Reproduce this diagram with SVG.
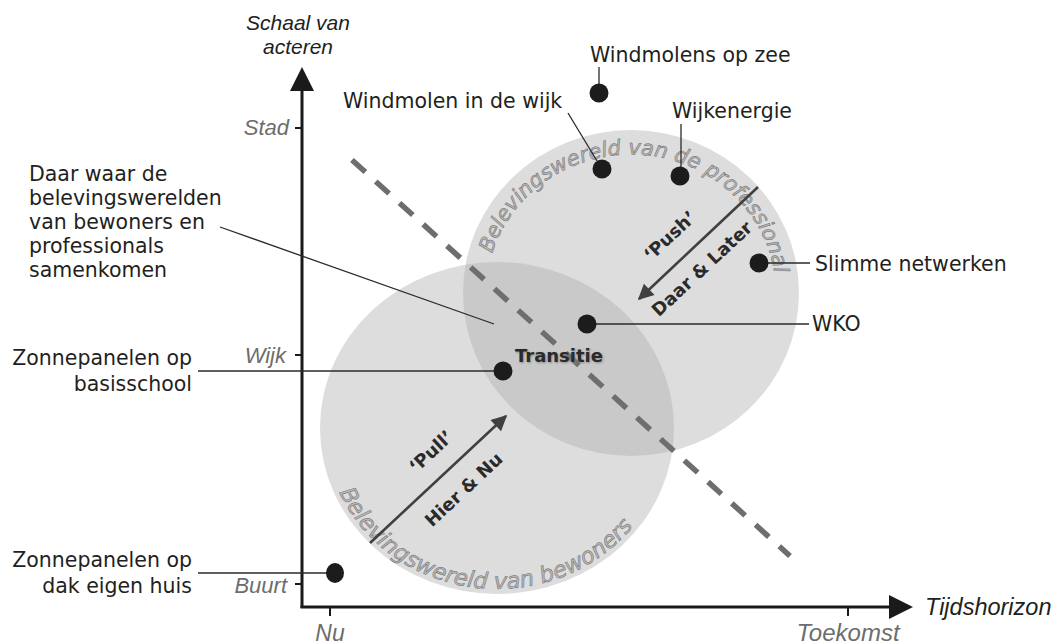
<svg xmlns="http://www.w3.org/2000/svg" width="1058" height="644" viewBox="0 0 1058 644">
<style>
.lbl{font-family:"DejaVu Sans",Verdana,sans-serif;font-size:20.5px;fill:#231f20}
.ax{font-family:"Liberation Sans",Arial,sans-serif;font-style:italic;font-size:21px;fill:#231f20}
.tick{font-family:"Liberation Sans",Arial,sans-serif;font-style:italic;font-size:22px;fill:#6d6d6d}
.bold{font-family:"DejaVu Sans",Verdana,sans-serif;font-weight:bold;font-size:18px;fill:#2a2a2a}
.arc{font-family:"DejaVu Sans",Verdana,sans-serif;font-style:italic;fill:#b8b8b8;stroke:#6a6a6a;stroke-width:0.5}
.lead{stroke:#2a2a2a;stroke-width:1.3;fill:none}
.dot{fill:#1c1c1c}
.axis{stroke:#1a1a1a;stroke-width:3;fill:none}
.tk{stroke:#1a1a1a;stroke-width:2}
.arr{stroke:#404040;stroke-width:2.6;fill:none}
</style>
<defs>
<marker id="ah" viewBox="0 0 10 10" refX="9" refY="5" markerWidth="6.5" markerHeight="6" orient="auto" markerUnits="strokeWidth">
<path d="M0,0 L10,5 L0,10 z" fill="#404040"/>
</marker>
<clipPath id="profClip"><ellipse cx="631" cy="293" rx="168" ry="163"/></clipPath>
<path id="profArc" d="M486.6,280.9 A145,139 0 0 1 776,293"/>
<path id="bewArc" d="M327.6,456 A172,161 0 0 0 663.1,469.7"/>
<filter id="halo" x="-10%" y="-30%" width="120%" height="160%"><feGaussianBlur stdDeviation="1.2"/></filter>
</defs>
<rect width="1058" height="644" fill="#ffffff"/>

<g id="circles">
<ellipse id="prof-circle" cx="631" cy="293" rx="168" ry="163" fill="#dddddd"/>
<ellipse id="bew-circle" cx="497" cy="428" rx="177" ry="166" fill="#dddddd"/>
<ellipse cx="497" cy="428" rx="177" ry="166" fill="#c9c9c9" clip-path="url(#profClip)"/>
<text class="arc" font-size="21"><textPath href="#profArc" startOffset="28">Belevingswereld van de professional</textPath></text>
<text class="arc" font-size="22.5"><textPath href="#bewArc" startOffset="38">Belevingswereld van bewoners</textPath></text>
</g>

<g id="divider">
<line x1="352" y1="160" x2="790" y2="556" stroke="#6e6e6e" stroke-width="5.5" stroke-dasharray="18 14"/>
</g>

<g id="axes">
<line class="axis" x1="302" y1="90" x2="302" y2="608"/>
<polygon points="302,67 290,91 314,91" fill="#1a1a1a"/>
<line class="axis" x1="300.5" y1="607" x2="890" y2="607"/>
<polygon points="913,607 889,595 889,619" fill="#1a1a1a"/>
<line class="tk" x1="295" y1="128" x2="302" y2="128"/>
<line class="tk" x1="295" y1="355" x2="302" y2="355"/>
<line class="tk" x1="295" y1="584" x2="302" y2="584"/>
<line class="tk" x1="330" y1="607" x2="330" y2="616"/>
<line class="tk" x1="848" y1="607" x2="848" y2="616"/>
<text class="ax" x="298" y="30" text-anchor="middle">Schaal van</text>
<text class="ax" x="298" y="54" text-anchor="middle">acteren</text>
<text class="ax" x="925" y="615" style="font-size:23.5px">Tijdshorizon</text>
<text class="tick" x="289" y="135" text-anchor="end">Stad</text>
<text class="tick" x="286" y="363" text-anchor="end">Wijk</text>
<text class="tick" x="287" y="593" text-anchor="end">Buurt</text>
<text class="tick" x="330" y="641" text-anchor="middle" style="font-size:23px">Nu</text>
<text class="tick" x="848" y="641" text-anchor="middle" style="font-size:24px">Toekomst</text>
</g>

<g id="connectors">
<line class="lead" x1="599" y1="67" x2="599" y2="86"/>
<line class="lead" x1="568" y1="113" x2="597" y2="161"/>
<line class="lead" x1="681" y1="124" x2="681" y2="170"/>
<line class="lead" x1="759" y1="263" x2="810" y2="263"/>
<line class="lead" x1="587" y1="324" x2="809" y2="324"/>
<line class="lead" x1="198" y1="371" x2="503" y2="371"/>
<line class="lead" x1="198" y1="573" x2="335" y2="573"/>
<line class="lead" x1="220" y1="227" x2="494" y2="324"/>
<line class="arr" x1="370" y1="543" x2="506" y2="416" marker-end="url(#ah)"/>
<line class="arr" x1="758" y1="187" x2="639" y2="299" marker-end="url(#ah)"/>
</g>

<g id="node-windmolens-zee">
<circle class="dot" cx="599" cy="93" r="9.5"/>
<text class="lbl" x="590" y="62">Windmolens op zee</text>
</g>
<g id="node-windmolen-wijk">
<circle class="dot" cx="602" cy="169" r="9.5"/>
<text class="lbl" x="343" y="108">Windmolen in de wijk</text>
</g>
<g id="node-wijkenergie">
<circle class="dot" cx="680" cy="176" r="9.5"/>
<text class="lbl" x="672" y="118">Wijkenergie</text>
</g>
<g id="node-slimme">
<circle class="dot" cx="759" cy="263" r="9.5"/>
<text class="lbl" x="815" y="271">Slimme netwerken</text>
</g>
<g id="node-wko">
<circle class="dot" cx="587" cy="324" r="9.5"/>
<text class="lbl" x="812" y="331">WKO</text>
</g>
<g id="node-zon-school">
<circle class="dot" cx="503" cy="371" r="9.5"/>
<text class="lbl" x="192" y="365" text-anchor="end">Zonnepanelen op</text>
<text class="lbl" x="192" y="391" text-anchor="end">basisschool</text>
</g>
<g id="node-zon-dak">
<ellipse class="dot" cx="335" cy="573" rx="9" ry="10"/>
<text class="lbl" x="192" y="567" text-anchor="end">Zonnepanelen op</text>
<text class="lbl" x="192" y="593" text-anchor="end">dak eigen huis</text>
</g>
<g id="node-overlap-note">
<text class="lbl" x="29" y="181">Daar waar de</text>
<text class="lbl" x="29" y="205">belevingswerelden</text>
<text class="lbl" x="29" y="229">van bewoners en</text>
<text class="lbl" x="29" y="253">professionals</text>
<text class="lbl" x="29" y="277">samenkomen</text>
</g>
<g id="node-transitie">
<text class="bold" x="560" y="363" text-anchor="middle" style="fill:#8a8a8a" filter="url(#halo)">Transitie</text>
<text class="bold" x="559" y="362" text-anchor="middle">Transitie</text>
</g>
<g id="node-pull" transform="translate(370,543) rotate(-43)">
<text class="bold" x="107" y="-19" text-anchor="middle">‘Pull’</text>
<text class="bold" x="105" y="31" text-anchor="middle">Hier &amp; Nu</text>
</g>
<g id="node-push" transform="translate(638,300) rotate(-43)">
<text class="bold" x="67" y="-19" text-anchor="middle">‘Push’</text>
<text class="bold" x="68" y="27" text-anchor="middle">Daar &amp; Later</text>
</g>
</svg>
